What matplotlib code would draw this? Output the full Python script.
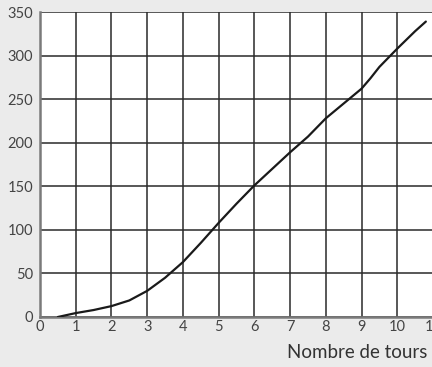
import numpy as np
import matplotlib.pyplot as plt

# distance (m) against number of turns
tours = [0.5, 1, 1.5, 2, 2.5, 3, 3.5, 4, 4.5, 5, 5.5, 6, 6.5, 7, 7.5, 8, 8.5, 9, 9.25, 9.5, 10, 10.5, 10.8]
distance = [0, 4.5, 8, 12.5, 19, 30, 45, 63, 85, 108, 130, 151, 170, 189, 207, 228, 245, 262, 274, 287, 308, 328, 339]

xticks = list(range(0, 12))
yticks = list(range(0, 351, 50))

fig = plt.figure(figsize=(4.32, 3.67), dpi=100, facecolor='#ebebeb')
ax = fig.add_axes([40/432, 50/367, 393/432, 305/367])
ax.set_facecolor('white')

ax.plot(tours, distance, color='#1a1a1a', lw=1.6, solid_capstyle='round',
        solid_joinstyle='round', zorder=3)

ax.set_xlim(0, 11)
ax.set_ylim(0, 350)
ax.set_xticks(xticks)
ax.set_yticks(yticks)
ax.grid(True, axis='y', color='#2a2a2a', lw=1.1)
ax.grid(True, axis='x', color='#4a4a4a', lw=1.3)
ax.tick_params(length=0, labelsize=10.5, labelcolor='#444444')
ax.tick_params(axis='y', pad=5)
ax.tick_params(axis='x', pad=2)
for lab in ax.get_xticklabels() + ax.get_yticklabels():
    lab.set_family('Lato')
for s in ['top', 'right']:
    ax.spines[s].set_visible(False)
for s in ['left', 'bottom']:
    ax.spines[s].set_color('#7a7a7a')
    ax.spines[s].set_linewidth(1.8)

fig.text(427/432, 1 - 352/367, 'Nombre de tours', ha='right', va='center',
         fontsize=13.5, family='Lato', color='#333333')

fig.savefig('out.png', dpi=100, facecolor=fig.get_facecolor())
